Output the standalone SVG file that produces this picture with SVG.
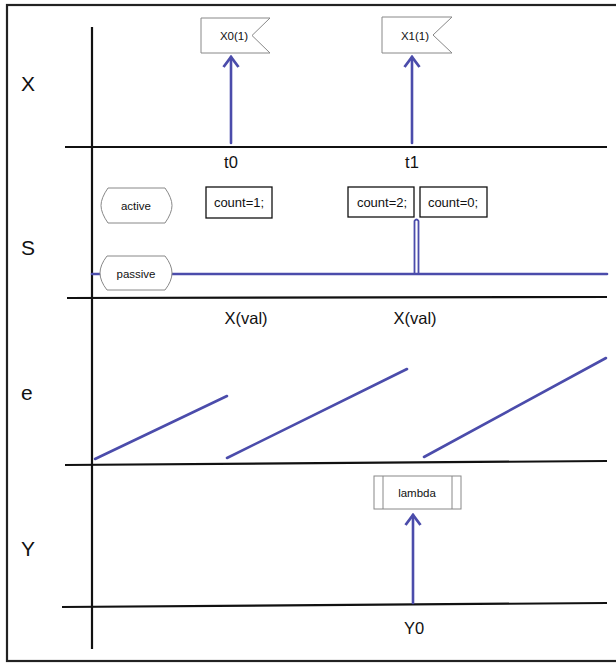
<svg xmlns="http://www.w3.org/2000/svg" width="616" height="663" viewBox="0 0 616 663">
<style>
.ax{stroke:#111;stroke-width:2.2;fill:none}
.bl{stroke:#4b4cab;stroke-width:2.6;fill:none;stroke-linecap:round}
.nd{fill:#fff;stroke:#888;stroke-width:1}
.bx{fill:#fff;stroke:#111;stroke-width:1.3}
.lab{font-family:"Liberation Sans",Arial,sans-serif;font-size:21px;fill:#111}
.t{font-family:"Liberation Sans",Arial,sans-serif;font-size:16.5px;fill:#111}
.s{font-family:"Liberation Sans",Arial,sans-serif;font-size:11.5px;fill:#111}
.c{font-family:"Liberation Sans",Arial,sans-serif;font-size:13px;fill:#111}
</style>
<defs>
<marker id="ah" markerWidth="16" markerHeight="20" refX="14" refY="10" orient="auto" markerUnits="userSpaceOnUse" viewBox="0 0 16 20">
<path d="M4,2.5 L14,10 L4,17.5" fill="none" stroke="#4b4cab" stroke-width="2.8"/>
</marker>
</defs>
<rect x="0" y="0" width="616" height="663" fill="#fff"/>
<rect x="7" y="5" width="612" height="656" fill="none" stroke="#222" stroke-width="2.2"/>
<g id="axes">
<line class="ax" x1="92" y1="27" x2="92" y2="649"/>
<line class="ax" x1="65" y1="147" x2="607" y2="147"/>
<line class="ax" x1="67" y1="298" x2="607" y2="297"/>
<line class="ax" x1="65" y1="465" x2="607" y2="461"/>
<line class="ax" x1="62" y1="607" x2="607" y2="603"/>
</g>
<g id="labels">
<text class="lab" x="21" y="91">X</text>
<text class="lab" x="21" y="255">S</text>
<text class="lab" x="21" y="400">e</text>
<text class="lab" x="21" y="556">Y</text>
<text class="t" x="231" y="168" text-anchor="middle">t0</text>
<text class="t" x="412" y="168" text-anchor="middle">t1</text>
<text class="t" x="246" y="324" text-anchor="middle">X(val)</text>
<text class="t" x="415" y="324" text-anchor="middle">X(val)</text>
<text class="t" x="414" y="634" text-anchor="middle">Y0</text>
</g>
<g id="connectors">
<line class="bl" x1="231" y1="143" x2="231" y2="57" marker-end="url(#ah)"/>
<line class="bl" x1="412" y1="143" x2="412" y2="57" marker-end="url(#ah)"/>
<line class="bl" x1="413" y1="603" x2="413" y2="515" marker-end="url(#ah)"/>
<line class="bl" x1="92" y1="274" x2="607" y2="274" stroke-linecap="butt"/>
<path d="M414.5,274 L414.5,221 Q416.5,218 418.5,221 L418.5,274" fill="none" stroke="#4b4cab" stroke-width="1.8"/>
<line class="bl" x1="95" y1="459" x2="227" y2="396"/>
<line class="bl" x1="227" y1="458" x2="407" y2="369"/>
<line class="bl" x1="424" y1="457" x2="606" y2="358"/>
</g>
<g id="X0">
<path class="nd" d="M201,18 L270,18 L252,35.5 L270,53 L201,53 Z"/>
<text class="s" x="234" y="40" text-anchor="middle">X0(1)</text>
</g>
<g id="X1">
<path class="nd" d="M382,17 L452,17 L433,35 L452,53 L382,53 Z"/>
<text class="s" x="415" y="39.5" text-anchor="middle">X1(1)</text>
</g>
<g id="active">
<path class="nd" d="M108,188 L165,188 Q172,198 172,205.5 Q172,213 165,223 L108,223 Q101,213 101,205.5 Q101,198 108,188 Z"/>
<text class="s" x="136" y="210" text-anchor="middle">active</text>
</g>
<g id="passive">
<path class="nd" d="M107,256 L165,256 Q172,265 172,273 Q172,281 165,290 L107,290 Q100,281 100,273 Q100,265 107,256 Z"/>
<text class="s" x="136" y="277.5" text-anchor="middle">passive</text>
</g>
<g id="count1">
<rect class="bx" x="206" y="187" width="66" height="31"/>
<text class="c" x="239" y="207" text-anchor="middle">count=1;</text>
</g>
<g id="count2">
<rect class="bx" x="348" y="187" width="66" height="30"/>
<text class="c" x="382" y="207" text-anchor="middle">count=2;</text>
</g>
<g id="count0">
<rect class="bx" x="420" y="187" width="67" height="30"/>
<text class="c" x="453" y="206.5" text-anchor="middle">count=0;</text>
</g>
<g id="lambda">
<rect class="nd" x="374" y="476" width="87" height="33"/>
<line class="nd" x1="383" y1="476" x2="383" y2="509"/>
<line class="nd" x1="452" y1="476" x2="452" y2="509"/>
<text class="s" x="417" y="497" text-anchor="middle">lambda</text>
</g>
</svg>
